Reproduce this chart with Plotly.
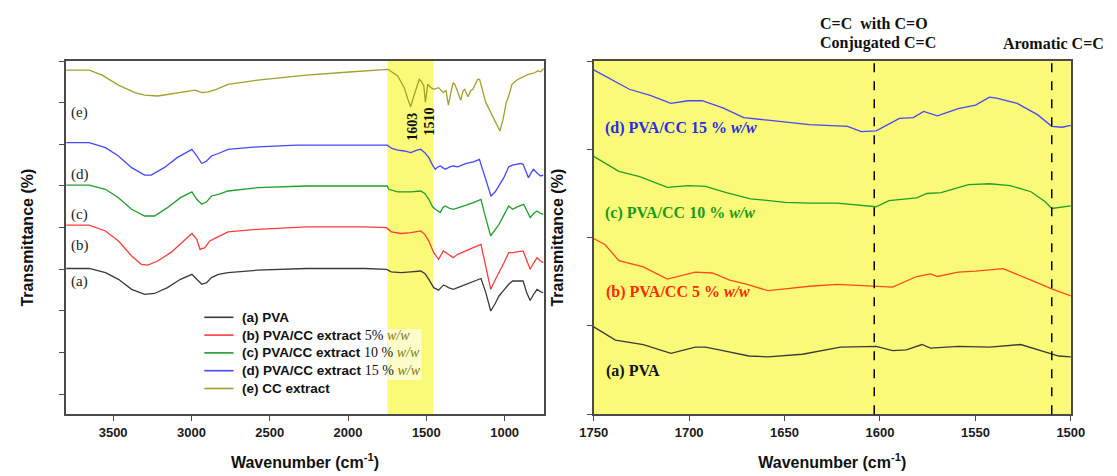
import plotly.graph_objects as go

# ---------------- data: left panel (full spectra, stacked, arbitrary offset units) -------------
e_wn = [3800, 3653, 3570, 3466, 3361, 3299, 3216, 3111, 3007, 2976, 2934, 2893, 2841, 2766, 2578, 2266, 2016,
        1891, 1760, 1745, 1683, 1641, 1615, 1600, 1585, 1568, 1545, 1530, 1516, 1506, 1497, 1491, 1470, 1453,
        1422, 1391, 1375, 1359, 1340, 1328, 1318, 1297, 1280, 1266, 1255, 1234, 1218, 1203, 1172, 1160, 1151,
        1120, 1100, 1078, 1050, 1030, 1010, 990, 974, 953, 920, 880, 849, 820, 786, 770, 750]
e_t = [7.78, 7.78, 7.66, 7.42, 7.24, 7.18, 7.16, 7.22, 7.28, 7.30, 7.24, 7.26, 7.32, 7.44, 7.54, 7.66, 7.73,
       7.77, 7.80, 7.80, 7.64, 7.36, 7.05, 6.90, 7.10, 7.32, 7.56, 7.50, 7.40, 7.01, 7.30, 7.44, 7.36, 7.32,
       7.36, 7.24, 7.30, 6.94, 7.30, 7.48, 7.44, 7.24, 7.06, 7.28, 7.32, 7.14, 7.28, 7.32, 7.56, 7.56, 7.44,
       7.00, 6.85, 6.68, 6.45, 6.32, 6.60, 7.00, 7.16, 7.44, 7.55, 7.62, 7.68, 7.70, 7.76, 7.74, 7.82]

d_wn = [3800, 3653, 3549, 3466, 3382, 3299, 3257, 3174, 3091, 3030, 2997, 2966, 2934, 2903, 2872, 2828, 2766,
        2578, 2328, 1891, 1750, 1720, 1683, 1640, 1599, 1560, 1536, 1510, 1484, 1460, 1443, 1425, 1411, 1395,
        1380, 1350, 1328, 1300, 1245, 1200, 1161, 1141, 1109, 1087, 1060, 1036, 1005, 974, 950, 926, 900, 882,
        848, 830, 816, 790, 770, 753]
d_t = [6.04, 6.04, 5.92, 5.72, 5.44, 5.26, 5.26, 5.44, 5.68, 5.82, 5.88, 5.72, 5.54, 5.60, 5.72, 5.78, 5.88,
       5.94, 5.98, 5.98, 5.98, 5.90, 5.86, 5.84, 5.80, 5.86, 5.88, 5.80, 5.68, 5.50, 5.40, 5.46, 5.48, 5.44,
       5.40, 5.46, 5.48, 5.46, 5.54, 5.58, 5.64, 5.40, 5.00, 4.76, 4.86, 5.00, 5.20, 5.46, 5.50, 5.52, 5.54, 5.52,
       5.20, 5.32, 5.40, 5.30, 5.24, 5.26]

c_wn = [3800, 3653, 3549, 3466, 3382, 3299, 3236, 3153, 3070, 2997, 2966, 2934, 2903, 2872, 2828, 2766, 2578,
        2266, 1891, 1750, 1740, 1683, 1599, 1536, 1510, 1484, 1460, 1443, 1411, 1395, 1380, 1350, 1328, 1300,
        1245, 1200, 1151, 1130, 1109, 1089, 1060, 1036, 1005, 974, 949, 920, 878, 860, 837, 815, 793, 770, 753]
c_t = [5.02, 5.02, 4.92, 4.72, 4.44, 4.28, 4.28, 4.48, 4.72, 4.86, 4.68, 4.56, 4.62, 4.76, 4.80, 4.88, 4.96,
       5.00, 5.00, 5.00, 4.92, 4.86, 4.86, 4.88, 4.82, 4.68, 4.50, 4.44, 4.36, 4.48, 4.52, 4.46, 4.44, 4.48,
       4.54, 4.60, 4.68, 4.36, 4.05, 3.80, 3.95, 4.08, 4.30, 4.52, 4.44, 4.50, 4.56, 4.40, 4.24, 4.34, 4.40, 4.34, 4.32]

b_wn = [3800, 3653, 3549, 3466, 3382, 3320, 3278, 3216, 3132, 3049, 2997, 2966, 2945, 2914, 2883, 2841, 2766,
        2578, 2266, 1891, 1755, 1724, 1661, 1599, 1536, 1510, 1484, 1453, 1422, 1391, 1375, 1359, 1328, 1300,
        1245, 1200, 1151, 1120, 1089, 1060, 1036, 1005, 974, 949, 882, 860, 837, 815, 793, 770, 753]
b_t = [4.06, 4.06, 3.92, 3.68, 3.32, 3.12, 3.10, 3.20, 3.40, 3.68, 3.86, 3.72, 3.48, 3.52, 3.68, 3.76, 3.90,
       3.96, 4.02, 4.02, 4.00, 3.90, 3.86, 3.88, 3.92, 3.84, 3.68, 3.40, 3.24, 3.44, 3.40, 3.36, 3.28, 3.36,
       3.44, 3.52, 3.60, 3.08, 2.52, 2.75, 2.92, 3.15, 3.40, 3.40, 3.44, 3.20, 3.00, 3.15, 3.28, 3.20, 3.16]

a_wn = [3800, 3653, 3549, 3466, 3382, 3299, 3236, 3153, 3070, 2997, 2966, 2934, 2903, 2872, 2828, 2766, 2578,
        2266, 1891, 1755, 1724, 1661, 1599, 1536, 1510, 1484, 1453, 1422, 1391, 1375, 1359, 1328, 1300, 1245,
        1200, 1151, 1120, 1089, 1060, 1036, 1005, 974, 949, 882, 860, 837, 815, 793, 770, 753]
a_t = [3.02, 3.02, 2.92, 2.76, 2.52, 2.40, 2.42, 2.56, 2.76, 2.88, 2.76, 2.64, 2.68, 2.80, 2.88, 2.92, 2.98,
       3.02, 3.02, 3.00, 2.94, 2.92, 2.94, 2.96, 2.90, 2.76, 2.56, 2.50, 2.62, 2.60, 2.56, 2.52, 2.56, 2.64,
       2.70, 2.78, 2.44, 2.00, 2.18, 2.36, 2.50, 2.64, 2.72, 2.72, 2.45, 2.25, 2.40, 2.52, 2.46, 2.44]

# ---------------- data: right panel (1750-1500 cm-1 zoom) -------------
rd_wn = [1750, 1740.4, 1731.3, 1720.4, 1709.5, 1700.5, 1693.2, 1682.3, 1671.4, 1658.7, 1637, 1617, 1609.8, 1602,
         1589.8, 1582.5, 1577.1, 1569.9, 1559, 1549.9, 1542.6, 1539, 1528.1, 1517.3, 1510, 1504.6, 1500]
rd_t = [3.90, 3.79, 3.68, 3.61, 3.52, 3.55, 3.55, 3.47, 3.36, 3.33, 3.28, 3.26, 3.20, 3.21,
        3.35, 3.36, 3.43, 3.38, 3.46, 3.50, 3.59, 3.58, 3.52, 3.39, 3.26, 3.25, 3.27]

rc_wn = [1750, 1736.8, 1725.9, 1711.4, 1700.5, 1691.4, 1680.5, 1667.8, 1649.7, 1637, 1622.5, 1608, 1602, 1595.3,
         1580.8, 1575.4, 1568, 1553.6, 1542.6, 1531.8, 1520.9, 1513.6, 1510, 1500]
rc_t = [2.92, 2.75, 2.69, 2.57, 2.59, 2.58, 2.51, 2.44, 2.40, 2.39, 2.39, 2.36, 2.35, 2.42,
        2.45, 2.50, 2.51, 2.60, 2.61, 2.59, 2.52, 2.41, 2.33, 2.36]

rb_wn = [1750, 1744, 1736.8, 1724, 1711.4, 1704.1, 1696.8, 1687.8, 1678.7, 1669.6, 1658.7, 1649.7, 1637, 1622.5,
         1609.8, 1593.4, 1580.8, 1573.5, 1569.9, 1559, 1550, 1535.5, 1520.9, 1510, 1500]
rb_t = [1.99, 1.92, 1.74, 1.67, 1.53, 1.57, 1.61, 1.60, 1.52, 1.47, 1.40, 1.42, 1.45, 1.47,
        1.46, 1.44, 1.56, 1.59, 1.56, 1.61, 1.62, 1.65, 1.52, 1.42, 1.34]

ra_wn = [1750, 1738.6, 1724, 1709.5, 1696.8, 1691.4, 1682.3, 1668.7, 1658.7, 1640.6, 1620.7, 1602, 1593.4, 1586.2,
         1578, 1573.5, 1559, 1542.6, 1526.3, 1515.4, 1506.3, 1500]
ra_t = [0.99, 0.84, 0.79, 0.69, 0.76, 0.76, 0.72, 0.66, 0.65, 0.68, 0.76, 0.77, 0.72, 0.73,
        0.79, 0.75, 0.77, 0.76, 0.79, 0.72, 0.66, 0.65]

left_ticks = [3500, 3000, 2500, 2000, 1500, 1000]
right_ticks = [1750, 1700, 1650, 1600, 1550, 1500]
marked_bands = [1603, 1510]
highlight_band = [1748, 1455]

C_A, C_B, C_C, C_D, C_E = "#3a3a3a", "#ff3b3b", "#1f9e2a", "#4646ff", "#a39f2a"
C_B_R = "#ff4a1c"
YEL = "#fafa78"
# the page body has an 8 px margin: the figure starts at page pixel (8, 8)
OFF = 8
W, H = 1117 - OFF, 476 - OFF


def px(x):
    return (x - OFF) / W


def py(y):
    return 1 - (y - OFF) / H


fig = go.Figure()
for wn, t, col in [(a_wn, a_t, C_A), (b_wn, b_t, C_B), (c_wn, c_t, C_C), (d_wn, d_t, C_D), (e_wn, e_t, C_E)]:
    fig.add_trace(go.Scatter(x=wn, y=t, mode="lines", line=dict(color=col, width=1.3),
                             xaxis="x", yaxis="y", showlegend=False, hoverinfo="skip"))
for wn, t, col in [(ra_wn, ra_t, C_A), (rb_wn, rb_t, C_B_R), (rc_wn, rc_t, C_C), (rd_wn, rd_t, C_D)]:
    fig.add_trace(go.Scatter(x=wn, y=t, mode="lines", line=dict(color=col, width=1.3),
                             xaxis="x2", yaxis="y2", showlegend=False, hoverinfo="skip"))

serif = "Liberation Serif, Times New Roman, serif"
sans = "Arial, Liberation Sans"
title_font = dict(family=sans, size=16, color="#111", weight="bold")

axis_common = dict(showline=True, linecolor="#4a4a4a", linewidth=1.5, mirror=True, showgrid=False,
                   zeroline=False, ticks="outside", ticklen=5, tickwidth=1.3, tickcolor="#4a4a4a",
                   tickfont=dict(family=sans, size=13, color="#1a1a1a", weight="bold"))
xtitle = "Wavenumber (cm<sup>-1</sup>)"
ytitle = "Transmittance (%)"
ydom = [py(414.3), py(61)]
fig.update_layout(
    width=W, height=H, autosize=False,
    margin=dict(l=0, r=0, t=0, b=0),
    paper_bgcolor="white", plot_bgcolor="white",
    xaxis=dict(domain=[px(53.3), px(543.3)], range=[3800, 750], tickvals=left_ticks, anchor="y",
               title=dict(text=xtitle, font=title_font, standoff=18), **axis_common),
    yaxis=dict(domain=ydom, range=[-0.48, 8.0], tickvals=list(range(0, 9)), showticklabels=False,
               anchor="x", title=dict(text=ytitle, font=title_font, standoff=22), **axis_common),
    xaxis2=dict(domain=[px(594.5), px(1084)], range=[1750, 1500], tickvals=right_ticks, anchor="y2",
                title=dict(text=xtitle, font=title_font, standoff=18), **axis_common),
    yaxis2=dict(domain=ydom, range=[0, 4], tickvals=[0, 1, 2, 3, 4], showticklabels=False, anchor="x2",
                title=dict(text=ytitle, font=title_font, standoff=19.5), **axis_common),
)

shapes = [
    dict(type="rect", xref="x", yref="y domain", x0=highlight_band[0], x1=highlight_band[1], y0=0, y1=1,
         fillcolor=YEL, line=dict(width=0), layer="below"),
    dict(type="rect", xref="paper", yref="paper", x0=px(383.5), x1=px(418), y0=py(380), y1=py(329),
         fillcolor="rgba(255,255,255,0.6)", line=dict(width=0), layer="below"),
    dict(type="rect", xref="x2 domain", yref="y2 domain", x0=0, x1=1, y0=0, y1=1,
         fillcolor=YEL, line=dict(width=0), layer="below"),
]
for b in marked_bands:
    shapes.append(dict(type="line", xref="x2", yref="y2 domain", x0=b, x1=b, y0=0, y1=1,
                       line=dict(color="black", width=1.5, dash="dash"), layer="above"))

# legend drawn manually (tight row spacing like the original)
legend_rows = [
    ("(a) PVA", "", C_A),
    ("(b) PVA/CC extract", "5%", C_B),
    ("(c) PVA/CC extract", "10 %", C_C),
    ("(d) PVA/CC extract", "15 %", C_D),
    ("(e) CC extract", "", C_E),
]
ann = []
for i, (lab, pct, col) in enumerate(legend_rows):
    yy = 317.3 + i * 17.8
    shapes.append(dict(type="line", xref="paper", yref="paper", x0=px(195), x1=px(225), y0=py(yy), y1=py(yy),
                       line=dict(color=col, width=1.6)))
    if pct:
        txt = ("<b>" + lab + " </b>"
               "<span style='font-family:Liberation Serif;font-size:14px'>" + pct + " </span>"
               "<span style='font-family:Liberation Serif;font-size:14px;font-style:italic;color:#7d7a10'>"
               "w/w</span>")
    else:
        txt = "<b>" + lab + "</b>"
    ann.append(dict(x=px(232), y=py(yy), xref="paper", yref="paper", text=txt, showarrow=False,
                    xanchor="left", yanchor="middle",
                    font=dict(family=sans, size=13.5, color="#111")))
fig.update_layout(shapes=shapes)

# curve letters, left panel
for lab, yy in [("(e)", 112.7), ("(d)", 174.3), ("(c)", 214), ("(b)", 245), ("(a)", 281.7)]:
    ann.append(dict(x=px(56), y=py(yy), xref="paper", yref="paper", text=lab, showarrow=False,
                    xanchor="left", yanchor="middle", font=dict(family=serif, size=15, color="#222")))
# peak labels (rotated)
for lab, xx, yy in [("1603", 409.3, 126.7), ("1510", 426, 121)]:
    ann.append(dict(x=px(xx), y=py(yy), xref="paper", yref="paper", text=lab,
                    showarrow=False, textangle=-90, xanchor="center", yanchor="middle",
                    font=dict(family=serif, size=14, color="#111", weight="bold")))
# right panel curve labels
for lab, col, yy, xx in [("(d) PVA/CC 15 % ", "#2c2ce0", 128, 604.4),
                         ("(c) PVA/CC 10 % ", "#1a9a1a", 213.3, 604.4),
                         ("(b) PVA/CC 5 % ", "#ff2a00", 291.7, 605.5),
                         ("(a) PVA", "#111111", 370.7, 605.5)]:
    t = lab + ("<i>w/w</i>" if "%" in lab else "")
    ann.append(dict(x=px(xx), y=py(yy), xref="paper", yref="paper", text=t, showarrow=False,
                    xanchor="left", yanchor="middle", font=dict(family=serif, size=16, color=col, weight="bold")))
# band annotations above right panel
for t, xx, yy in [("C=C  with C=O", 824.6, 24), ("Conjugated C=C", 824.6, 43.3), ("Aromatic C=C", 1012, 43.3)]:
    ann.append(dict(x=px(xx), y=py(yy), xref="paper", yref="paper", text=t, showarrow=False,
                    xanchor="left", yanchor="middle", font=dict(family=serif, size=16, color="#111", weight="bold")))
fig.update_layout(annotations=ann)

fig.write_html("out.html")
